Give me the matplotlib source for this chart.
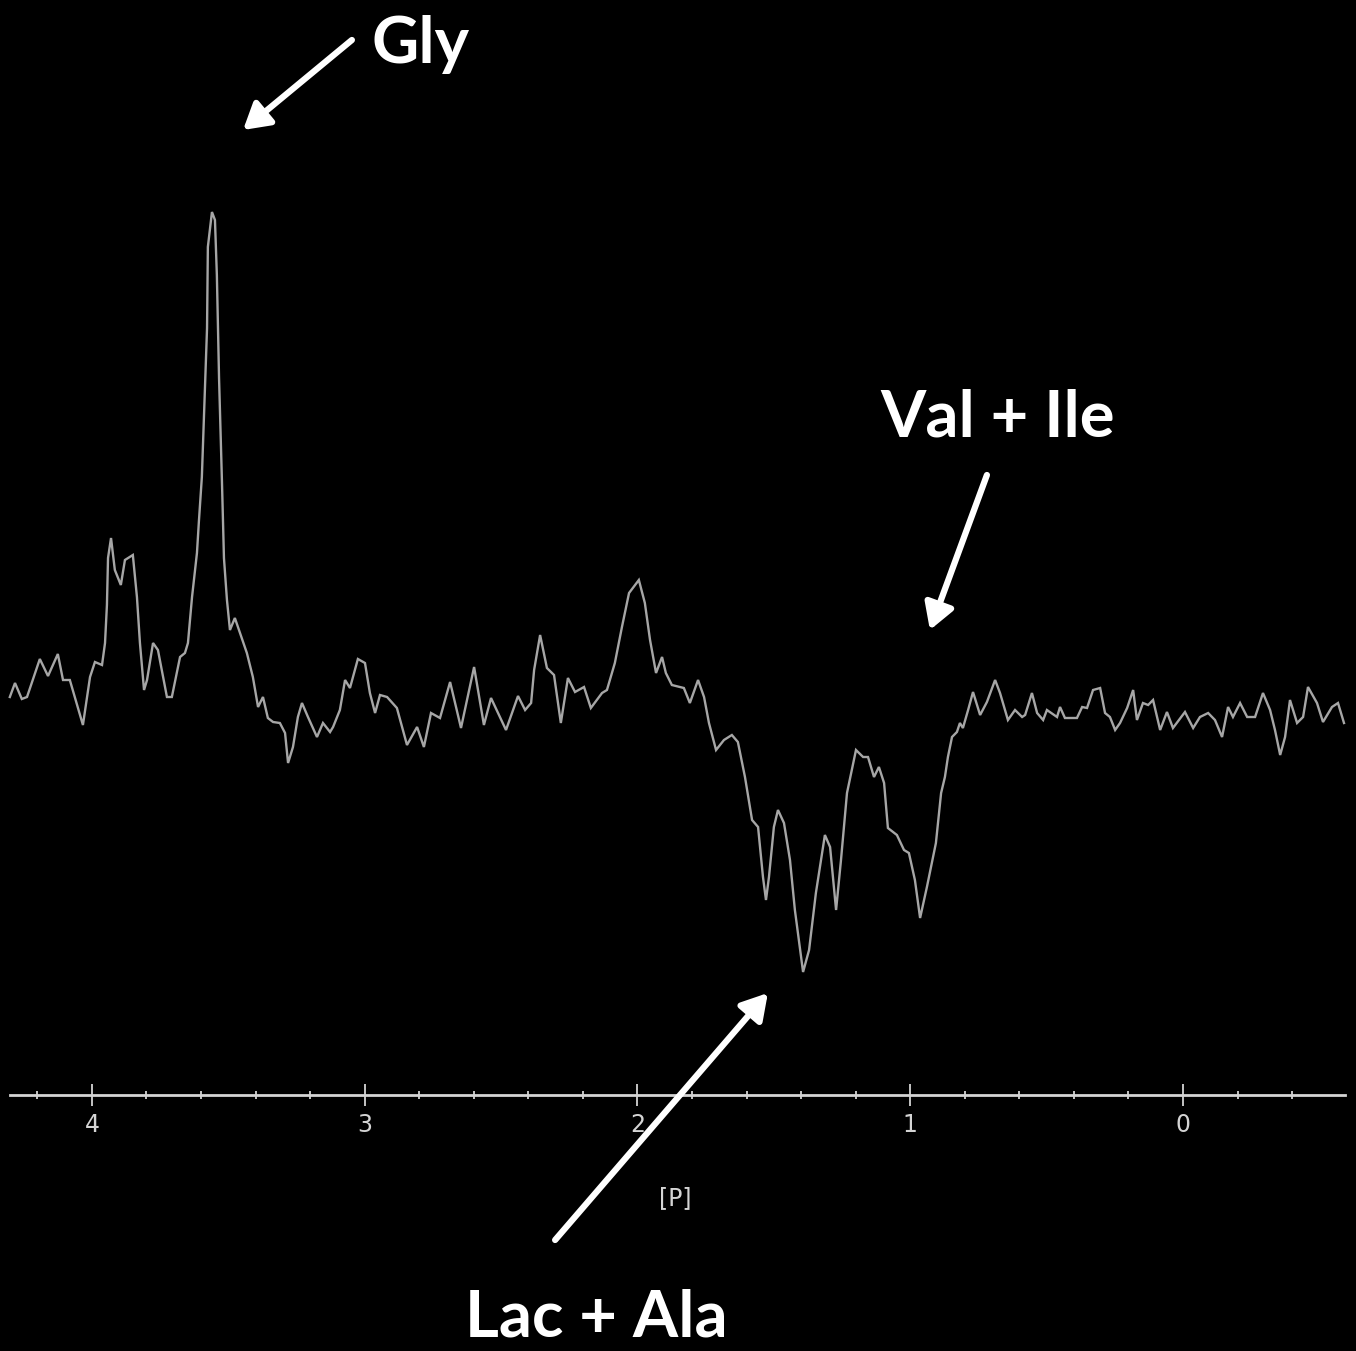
import matplotlib
matplotlib.use("Agg")
import matplotlib.pyplot as plt
from matplotlib.ticker import FixedLocator

# chemical shift (ppm) and intensity (a.u.)
shift_ppm = [
    4.301, 4.282, 4.257, 4.238, 4.191, 4.161, 4.125, 4.106, 4.081, 4.033,
    4.007, 3.989, 3.963, 3.952, 3.945, 3.941, 3.930, 3.916, 3.894, 3.879,
    3.850, 3.835, 3.824, 3.809, 3.798, 3.776, 3.758, 3.725, 3.707, 3.677,
    3.659, 3.648, 3.633, 3.615, 3.608, 3.597, 3.589, 3.578, 3.575, 3.560,
    3.549, 3.542, 3.534, 3.523, 3.516, 3.505, 3.494, 3.476, 3.457, 3.432,
    3.410, 3.391, 3.373, 3.355, 3.336, 3.311, 3.292, 3.281, 3.263, 3.245,
    3.230, 3.208, 3.175, 3.153, 3.127, 3.116, 3.091, 3.072, 3.054, 3.025,
    2.999, 2.981, 2.962, 2.944, 2.918, 2.882, 2.845, 2.808, 2.783, 2.757,
    2.724, 2.687, 2.647, 2.599, 2.563, 2.537, 2.482, 2.438, 2.412, 2.390,
    2.379, 2.357, 2.332, 2.306, 2.281, 2.255, 2.229, 2.196, 2.171, 2.130,
    2.112, 2.083, 2.057, 2.031, 1.995, 1.973, 1.954, 1.932, 1.910, 1.896,
    1.874, 1.830, 1.808, 1.778, 1.756, 1.738, 1.712, 1.683, 1.654, 1.632,
    1.606, 1.580, 1.558, 1.540, 1.529, 1.518, 1.500, 1.485, 1.463, 1.441,
    1.423, 1.393, 1.371, 1.346, 1.313, 1.294, 1.272, 1.254, 1.232, 1.199,
    1.173, 1.155, 1.133, 1.115, 1.096, 1.082, 1.049, 1.023, 1.005, 0.983,
    0.964, 0.939, 0.906, 0.887, 0.873, 0.862, 0.847, 0.829, 0.818, 0.807,
    0.788, 0.770, 0.744, 0.719, 0.689, 0.671, 0.642, 0.616, 0.590, 0.579,
    0.554, 0.535, 0.513, 0.499, 0.462, 0.451, 0.433, 0.389, 0.370, 0.352,
    0.330, 0.304, 0.286, 0.268, 0.249, 0.231, 0.205, 0.183, 0.169, 0.147,
    0.128, 0.110, 0.084, 0.059, 0.037, -0.007, -0.037, -0.062, -0.092, -0.117,
    -0.143, -0.165, -0.183, -0.209, -0.235, -0.264, -0.293, -0.319, -0.337, -0.356,
    -0.374, -0.392, -0.418, -0.440, -0.458, -0.491, -0.513, -0.546, -0.568, -0.590,
]
intensity = [
    18, 32, 16, 18, 56, 39, 61, 35, 35, -10,
    38, 53, 50, 72, 110, 157, 177, 145, 130, 155,
    160, 118, 72, 25, 35, 72, 65, 18, 18, 58,
    62, 72, 118, 162, 193, 238, 302, 387, 468, 503,
    495, 440, 337, 230, 157, 115, 85, 97, 82, 62,
    38, 8, 18, -3, -7, -8, -18, -48, -32, -2,
    12, -2, -22, -8, -17, -12, 5, 35, 27, 56,
    52, 22, 2, 20, 18, 7, -30, -12, -32, 2,
    -3, 33, -13, 48, -10, 17, -15, 19, 5, 12,
    45, 80, 47, 40, -8, 37, 23, 28, 7, 22,
    25, 52, 88, 122, 135, 112, 75, 42, 58, 42,
    30, 27, 12, 35, 18, -8, -35, -25, -20, -27,
    -62, -105, -112, -162, -185, -162, -112, -95, -108, -145,
    -195, -257, -235, -178, -120, -132, -195, -145, -78, -35,
    -42, -42, -62, -52, -68, -113, -120, -135, -138, -165,
    -203, -172, -128, -78, -62, -42, -22, -17, -8, -13,
    5, 23, 0, 13, 35, 22, -5, 5, -2, 0,
    22, 2, -5, 5, -2, 8, -3, -3, 8, 7,
    25, 27, 2, -2, -15, -8, 7, 25, -5, 12,
    10, 15, -15, 3, -13, 3, -13, -2, 2, -5,
    -22, 8, -2, 12, -2, -2, 22, 5, -15, -40,
    -22, 15, -8, -2, 28, 12, -7, 8, 12, -8,
]

major_ticks = [4, 3, 2, 1, 0]
major_labels = ["4", "3", "2", "1", "0"]
minor_ticks = [4.2, 3.8, 3.6, 3.4, 3.2, 2.8, 2.6, 2.4, 2.2, 1.8, 1.6, 1.4, 1.2,
               0.8, 0.6, 0.4, 0.2, -0.2, -0.4]
axis_span = (4.30, -0.594)
axis_level = -380

# (label, text position, arrow tail, arrow tip) in data units
annotations = [
    ("Gly", (2.794, 670), (3.047, 675), (3.446, 585)),
    ("Val + Ile", (0.680, 297), (0.719, 240), (0.928, 85)),
    ("Lac + Ala", (2.150, -603), (2.302, -525), (1.522, -278)),
]

fig = plt.figure(figsize=(13.56, 13.51), dpi=100, facecolor="black")
ax = fig.add_axes([0, 0, 1, 1], facecolor="black")

ax.plot(shift_ppm, intensity, color="#a6a6a6", lw=1.7, solid_joinstyle="miter")

ax.set_xlim(4.337, -0.634)
ax.set_ylim(-636, 715)

for side in ("top", "left", "right"):
    ax.spines[side].set_visible(False)
ax.spines["bottom"].set_position(("data", axis_level))
ax.spines["bottom"].set_bounds(*axis_span)
ax.spines["bottom"].set_color("#d4d4d4")
ax.spines["bottom"].set_linewidth(2)

ax.yaxis.set_visible(False)
ax.xaxis.set_major_locator(FixedLocator(major_ticks))
ax.xaxis.set_minor_locator(FixedLocator(minor_ticks))
ax.set_xticklabels(major_labels, family=["Liberation Sans Narrow", "DejaVu Sans"],
                   fontsize=17, color="#d4d4d4")
ax.tick_params(axis="x", which="major", direction="inout", length=16, width=1.3,
               color="#d4d4d4", pad=5)
ax.tick_params(axis="x", which="minor", direction="inout", length=6, width=1.3,
               color="#d4d4d4")

ax.set_xlabel("[P]", family=["Liberation Sans Narrow", "DejaVu Sans"],
              fontsize=17, color="#d4d4d4")
ax.xaxis.set_label_coords(0.498, 0.122)

for label, text_xy, tail, tip in annotations:
    ax.annotate("", xy=tip, xytext=tail,
                arrowprops=dict(arrowstyle="-|>,head_length=0.85,head_width=0.5",
                                color="white", lw=4.5, mutation_scale=18,
                                shrinkA=0, shrinkB=0))
    ax.text(*text_xy, label, color="white", fontsize=47, fontweight="bold",
            family=["Lato", "DejaVu Sans"], ha="center", va="center")

fig.savefig("out.png", dpi=100, facecolor="black")
